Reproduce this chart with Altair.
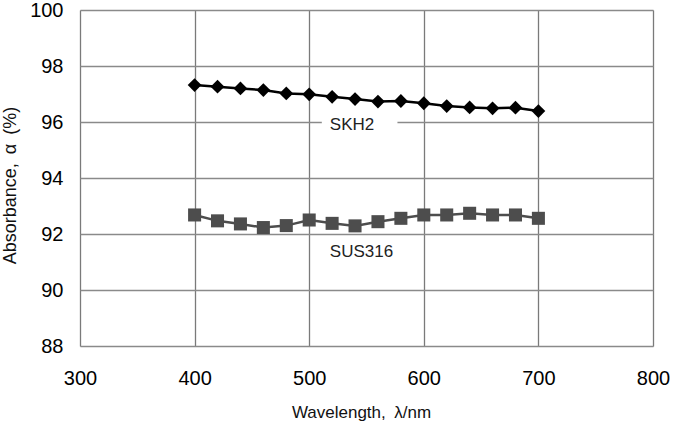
import altair as alt
import pandas as pd

# Wavelength grid (nm) shared by both samples
wavelength = [400, 420, 440, 460, 480, 500, 520, 540, 560, 580,
              600, 620, 640, 660, 680, 700]

# Absorbance (%) of each steel sample
skh2 = [97.32, 97.26, 97.20, 97.14, 97.02, 96.99, 96.90, 96.82, 96.73, 96.75,
        96.67, 96.57, 96.52, 96.49, 96.51, 96.39]
sus316 = [92.68, 92.47, 92.36, 92.23, 92.30, 92.50, 92.38, 92.29, 92.44, 92.56,
          92.68, 92.68, 92.74, 92.68, 92.68, 92.56]

# Series labels placed inside the plot
label_text = ["SKH2", "SUS316"]
label_x = [518, 518]
label_y = [95.89, 91.37]

# White patch behind the SKH2 label so the grid line breaks around it
patch_x = [511]
patch_x2 = [577]
patch_y = [95.8]
patch_y2 = [96.2]

FONT = "Liberation Sans"
SP = "\u2002"  # wide gap after the comma in the axis titles

df_skh = pd.DataFrame({"wl": wavelength, "a": skh2})
df_sus = pd.DataFrame({"wl": wavelength, "a": sus316})
df_lab = pd.DataFrame({"t": label_text, "x": label_x, "y": label_y})
df_patch = pd.DataFrame({"x": patch_x, "x2": patch_x2, "y": patch_y, "y2": patch_y2})

x_scale = alt.Scale(domain=[300, 800], nice=False)
y_scale = alt.Scale(domain=[88, 100], nice=False, zero=False)

x_axis = alt.Axis(
    title=f"Wavelength,{SP}λ/nm", values=[300, 400, 500, 600, 700, 800],
    format="d", grid=True, gridColor="#7a7a7a", gridWidth=1.3,
    domain=False, ticks=False, labelPadding=22, labelFontSize=20,
    labelFlush=False, labelOverlap=False,
    labelColor="#000", labelFont=FONT, titleFont=FONT, titleFontSize=17,
    titleFontWeight="normal", titleColor="#111",
    titleX=281, titleY=66, titleBaseline="middle", titleAlign="center",
)
y_axis = alt.Axis(
    title=f"Absorbance,{SP}α{SP}(%)", values=[88, 90, 92, 94, 96, 98, 100],
    format="d", grid=True, gridColor="#8a8a8a", gridWidth=1.3,
    domain=False, ticks=False, labelPadding=17, labelFontSize=20,
    labelFlush=False, labelOverlap=False,
    labelColor="#000", labelFont=FONT, titleFont=FONT, titleFontSize=18,
    titleFontWeight="normal", titleColor="#111",
    titleX=-70, titleY=175, titleBaseline="middle", titleAlign="center",
    titleAngle=270,
)

base_x = alt.X("wl:Q", scale=x_scale, axis=x_axis)
base_y = alt.Y("a:Q", scale=y_scale, axis=y_axis)

skh_line = alt.Chart(df_skh).mark_line(color="#000000", strokeWidth=2.5).encode(x=base_x, y=base_y)
skh_pts = alt.Chart(df_skh).mark_point(
    shape="diamond", filled=True, size=190, color="#000000", opacity=1
).encode(x="wl:Q", y="a:Q")

sus_line = alt.Chart(df_sus).mark_line(color="#4d4d4d", strokeWidth=2.5).encode(x="wl:Q", y="a:Q")
sus_pts = alt.Chart(df_sus).mark_point(
    shape="square", filled=True, size=170, color="#4d4d4d", opacity=1
).encode(x="wl:Q", y="a:Q")

patch = alt.Chart(df_patch).mark_rect(color="white").encode(
    x="x:Q", x2="x2:Q", y="y:Q", y2="y2:Q"
)
labels = alt.Chart(df_lab).mark_text(
    align="left", baseline="middle", font=FONT, fontSize=17, color="#222"
).encode(x="x:Q", y="y:Q", text="t:N")

chart = alt.layer(
    skh_line, patch, skh_pts, sus_line, sus_pts, labels
).properties(
    width=573, height=336,
    autosize=alt.AutoSizeParams(type="none"),
    padding={"left": 80, "top": 10, "right": 22, "bottom": 78},
).configure_view(
    stroke="#505050", strokeWidth=2
).configure(background="white")

chart.save("out.html", embed_options={"renderer": "svg", "actions": False})
